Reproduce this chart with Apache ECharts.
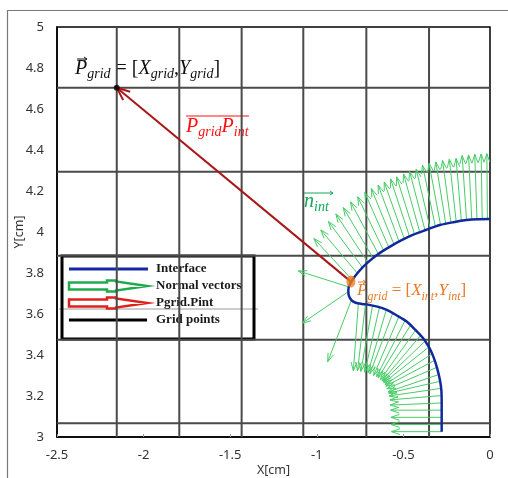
<!DOCTYPE html>
<html>
<head>
<meta charset="utf-8">
<script src="https://cdn.jsdelivr.net/npm/echarts@6/dist/echarts.min.js"></script>
<style>
  html, body { margin: 0; padding: 0; background: #fff; }
  #chart { width: 508px; height: 478px; }
</style>
</head>
<body>
<div id="chart"></div>
<script>
// Interface curve (cm), traced from the right edge, round the neck, down the lower lobe
const interfaceX = [0, -0.07, -0.135, -0.21, -0.289, -0.37, -0.443, -0.51, -0.577, -0.645, -0.712, -0.76, -0.795, -0.812, -0.818, -0.815, -0.800, -0.776, -0.740, -0.712, -0.650, -0.596, -0.540, -0.481, -0.430, -0.385, -0.350, -0.327, -0.305, -0.289, -0.281, -0.279, -0.279];
const interfaceY = [4.063, 4.062, 4.058, 4.048, 4.034, 4.010, 3.987, 3.960, 3.929, 3.893, 3.847, 3.805, 3.766, 3.740, 3.717, 3.690, 3.668, 3.655, 3.649, 3.647, 3.636, 3.620, 3.594, 3.563, 3.522, 3.481, 3.435, 3.392, 3.335, 3.278, 3.230, 3.180, 3.026];

// Mesh lines through the grid points (cm)
const gridLineX = [-2.155, -1.794, -1.434, -1.078, -0.714, -0.352];
const gridLineY = [4.704, 4.294, 3.884, 3.475, 3.067];

// Grid point and interface point
const gridPoint = [-2.155, 4.704];
const interfacePoint = [-0.803, 3.758];

// Vector from interface point to grid point: [x0, y0, x1, y1]
const gridVector = [[-0.803, 3.758, -2.155, 4.704]];

// Normal vectors on the upper branch: [x0, y0, x1, y1]
const upperNormals = [
  [-0.795, 3.766, -1.017, 3.968], [-0.765, 3.798, -0.977, 4.010], [-0.735, 3.826, -0.933, 4.051],
  [-0.705, 3.851, -0.890, 4.088], [-0.675, 3.873, -0.847, 4.119], [-0.645, 3.893, -0.805, 4.147],
  [-0.615, 3.911, -0.764, 4.172], [-0.585, 3.927, -0.723, 4.193], [-0.555, 3.941, -0.685, 4.212],
  [-0.525, 3.954, -0.646, 4.229], [-0.495, 3.967, -0.611, 4.244], [-0.465, 3.979, -0.574, 4.259],
  [-0.435, 3.988, -0.539, 4.269], [-0.405, 3.998, -0.499, 4.283], [-0.375, 4.008, -0.464, 4.295],
  [-0.345, 4.017, -0.426, 4.306], [-0.315, 4.025, -0.390, 4.326], [-0.285, 4.032, -0.352, 4.335],
  [-0.255, 4.038, -0.313, 4.342], [-0.225, 4.043, -0.274, 4.349], [-0.195, 4.048, -0.235, 4.356],
  [-0.165, 4.051, -0.196, 4.359], [-0.135, 4.054, -0.161, 4.373], [-0.105, 4.057, -0.124, 4.376],
  [-0.075, 4.059, -0.088, 4.379], [-0.045, 4.061, -0.051, 4.381], [-0.015, 4.062, -0.018, 4.382]
];

// Normal vectors on the lower lobe: [x0, y0, x1, y1]
const lowerNormals = [
  [-0.760, 3.652, -0.789, 3.323], [-0.719, 3.648, -0.765, 3.323], [-0.678, 3.640, -0.746, 3.320],
  [-0.639, 3.630, -0.723, 3.316], [-0.599, 3.620, -0.704, 3.314], [-0.562, 3.603, -0.693, 3.309],
  [-0.527, 3.585, -0.672, 3.300], [-0.491, 3.567, -0.655, 3.294], [-0.460, 3.544, -0.646, 3.288],
  [-0.430, 3.520, -0.633, 3.279], [-0.401, 3.495, -0.622, 3.274], [-0.376, 3.467, -0.618, 3.271],
  [-0.356, 3.437, -0.613, 3.264], [-0.336, 3.405, -0.606, 3.256], [-0.321, 3.373, -0.602, 3.248],
  [-0.309, 3.339, -0.596, 3.235], [-0.298, 3.304, -0.589, 3.220], [-0.288, 3.272, -0.585, 3.214],
  [-0.285, 3.237, -0.583, 3.200], [-0.281, 3.202, -0.578, 3.181], [-0.279, 3.166, -0.576, 3.156],
  [-0.279, 3.131, -0.574, 3.131], [-0.279, 3.096, -0.572, 3.096], [-0.279, 3.061, -0.571, 3.061],
  [-0.279, 3.026, -0.569, 3.026]
];

// Normal vectors around the neck: [x0, y0, x1, y1]
const neckNormals = [
  [-0.818, 3.733, -1.107, 3.810],
  [-0.818, 3.709, -1.084, 3.555],
  [-0.800, 3.668, -0.937, 3.367]
];

const legendLabels = ['Interface', 'Normal vectors', 'Pgrid.Pint', 'Grid points'];

const MATH_FONT = 'Liberation Serif';
const AXIS_FONT = 'Noto Sans';

function arrowItem(color, width, headLen, headAngle) {
  return function (params, api) {
    const a = api.coord([api.value(0), api.value(1)]);
    const b = api.coord([api.value(2), api.value(3)]);
    const ang = Math.atan2(b[1] - a[1], b[0] - a[0]);
    const h1 = [b[0] - headLen * Math.cos(ang - headAngle), b[1] - headLen * Math.sin(ang - headAngle)];
    const h2 = [b[0] - headLen * Math.cos(ang + headAngle), b[1] - headLen * Math.sin(ang + headAngle)];
    return {
      type: 'group',
      children: [
        { type: 'line', shape: { x1: a[0], y1: a[1], x2: b[0], y2: b[1] }, style: { stroke: color, lineWidth: width } },
        { type: 'polyline', shape: { points: [h1, b, h2] }, style: { stroke: color, lineWidth: width, fill: null } }
      ]
    };
  };
}

function meshLine(vertical) {
  return function (params, api) {
    const cs = params.coordSys;
    const v = api.value(0);
    if (vertical) {
      const x = api.coord([v, 4])[0];
      return { type: 'line', shape: { x1: x, y1: cs.y, x2: x, y2: cs.y + cs.height }, style: { stroke: '#4a4a4a', lineWidth: 2 } };
    }
    const y = api.coord([-1, v])[1];
    return { type: 'line', shape: { x1: cs.x, y1: y, x2: cs.x + cs.width, y2: y }, style: { stroke: '#4a4a4a', lineWidth: 2 } };
  };
}

const GREEN = '#48cc68';

function richFor(color, main, sub) {
  return {
    m: { fontFamily: MATH_FONT, fontStyle: 'italic', fontSize: main, lineHeight: 24, verticalAlign: 'middle', fill: color, color: color },
    u: { fontFamily: MATH_FONT, fontSize: main, lineHeight: 24, verticalAlign: 'middle', fill: color, color: color },
    s: { fontFamily: MATH_FONT, fontStyle: 'italic', fontSize: sub, lineHeight: 12, verticalAlign: 'bottom', fill: color, color: color }
  };
}
function smallArrow(x1, x2, y, color) {
  return [
    { type: 'line', shape: { x1: x1, y1: y, x2: x2, y2: y }, style: { stroke: color, lineWidth: 1 } },
    { type: 'polyline', shape: { points: [[x2 - 3, y - 2], [x2, y], [x2 - 3, y + 2]] }, style: { stroke: color, lineWidth: 1, fill: null } }
  ];
}

function hollowArrow(y, color) {
  const p = [[69, -3.5], [107, -3.5], [107, -5.5], [116, -5.5], [116, -4.5], [147, 0], [116, 4.5], [116, 5.5], [107, 5.5], [107, 3.5], [69, 3.5]];
  return { type: 'polygon', shape: { points: p.map(q => [q[0], y + q[1]]) }, style: { stroke: color, lineWidth: 2.5, fill: '#fff' } };
}

const legendY = [269, 286, 303, 320];
const legendGraphics = [
  { type: 'line', shape: { x1: 59, y1: 309, x2: 258, y2: 309 }, style: { stroke: '#9a9a9a', lineWidth: 1 } },
  { type: 'rect', shape: { x: 62, y: 256, width: 192, height: 83 }, style: { stroke: '#000', lineWidth: 3, fill: null } },
  { type: 'line', shape: { x1: 69, y1: legendY[0], x2: 148, y2: legendY[0] }, style: { stroke: '#1428a8', lineWidth: 3 } },
  hollowArrow(legendY[1], '#1faa4c'),
  hollowArrow(legendY[2], '#e0201c'),
  { type: 'line', shape: { x1: 69, y1: legendY[3], x2: 147, y2: legendY[3] }, style: { stroke: '#000', lineWidth: 3 } }
].concat(legendLabels.map((t, i) => ({
  type: 'text', x: 156, y: legendY[i],
  style: { text: t, fill: '#1a1a1a', font: 'bold 13px "Liberation Serif"', verticalAlign: 'middle', textAlign: 'left' }
})));

const labelGraphics = [
  // grid point label
  { type: 'text', x: 75, y: 69, style: { text: '{m|P}{s|grid}{u| = [}{m|X}{s|grid}{u|,}{m|Y}{s|grid}{u|]}', rich: richFor('#111', 20, 14), verticalAlign: 'middle' } },
  // vector label with overline
  { type: 'text', x: 186, y: 127, style: { text: '{m|P}{s|grid}{m|P}{s|int}', rich: richFor('#ff1010', 20, 14), verticalAlign: 'middle' } },
  { type: 'line', shape: { x1: 186, y1: 116, x2: 249, y2: 116 }, style: { stroke: '#ff1010', lineWidth: 1 } },
  // normal label with arrow
  { type: 'text', x: 304, y: 202, style: { text: '{m|n}{s|int}', rich: richFor('#12a858', 20, 14), verticalAlign: 'middle' } },
  // interface point label
  { type: 'text', x: 357, y: 291, style: { text: '{m|P}{s|grid}{u| = [}{m|X}{s|int}{u|,}{m|Y}{s|int}{u|]}', rich: richFor('#ea7a28', 17, 12), verticalAlign: 'middle' } }
]
  .concat(smallArrow(77, 87, 59, '#111'))
  .concat(smallArrow(304, 333, 193, '#12a858'))
  .concat(smallArrow(358, 366, 282, '#ea7a28'));

const frameGraphics = [
  { type: 'line', shape: { x1: 7, y1: 10.5, x2: 508, y2: 10.5 }, style: { stroke: '#777', lineWidth: 1.2 } },
  { type: 'line', shape: { x1: 7.5, y1: 10, x2: 7.5, y2: 478 }, style: { stroke: '#777', lineWidth: 1.2 } }
];

const chart = echarts.init(document.getElementById('chart'), null, { renderer: 'canvas' });
chart.setOption({
  animation: false,
  backgroundColor: '#fff',
  grid: { left: 57, right: 18, top: 27, bottom: 41, show: true, borderColor: '#000', borderWidth: 1.5, containLabel: false, outerBoundsMode: 'none' },
  xAxis: {
    type: 'value', min: -2.5, max: 0, interval: 0.5,
    name: 'X[cm]', nameLocation: 'middle', nameGap: 27, nameMoveOverlap: false,
    nameTextStyle: { fontFamily: AXIS_FONT, fontSize: 12.5, color: '#333' },
    axisLine: { show: true, onZero: false, lineStyle: { color: '#000', width: 1.5 } },
    axisTick: { show: true, inside: true, length: 3, lineStyle: { color: '#999' } },
    axisLabel: { fontFamily: AXIS_FONT, fontSize: 13, color: '#333', margin: 12 },
    splitLine: { show: false }
  },
  yAxis: {
    type: 'value', min: 3, max: 5, interval: 0.2,
    name: 'Y[cm]', nameLocation: 'middle', nameGap: 31, nameMoveOverlap: false,
    nameTextStyle: { fontFamily: AXIS_FONT, fontSize: 12.5, color: '#333' },
    axisLine: { show: true, onZero: false, lineStyle: { color: '#000', width: 1.5 } },
    axisTick: { show: false },
    axisLabel: { fontFamily: AXIS_FONT, fontSize: 13, color: '#333', margin: 13 },
    splitLine: { show: false }
  },
  series: [
    { type: 'custom', name: 'Grid lines X', data: gridLineX.map(v => [v]), renderItem: meshLine(true), encode: { x: 0 }, silent: true, z: 1 },
    { type: 'custom', name: 'Grid lines Y', data: gridLineY.map(v => [v]), renderItem: meshLine(false), encode: { y: 0 }, silent: true, z: 1 },
    { type: 'custom', name: 'Normal vectors', data: upperNormals.concat(lowerNormals, neckNormals), renderItem: arrowItem(GREEN, 1, 9, 0.33), encode: { x: [0, 2], y: [1, 3] }, clip: true, silent: true, z: 2 },
    { type: 'line', name: 'Interface', data: interfaceX.map((x, i) => [x, interfaceY[i]]), showSymbol: false, smooth: 0.3, lineStyle: { color: '#102a9c', width: 2.5 }, z: 3, silent: true },
    { type: 'custom', name: 'Pgrid.Pint', data: gridVector, renderItem: arrowItem('#a81818', 2, 14, 0.4), encode: { x: [0, 2], y: [1, 3] }, silent: true, z: 4 },
    { type: 'scatter', name: 'Grid point', data: [gridPoint], symbol: 'circle', symbolSize: 6, itemStyle: { color: '#000' }, z: 5, silent: true },
    { type: 'scatter', name: 'Interface point', data: [interfacePoint], symbol: 'circle', symbolSize: [9, 12], itemStyle: { color: '#f07d1c' }, z: 5, silent: true }
  ],
  graphic: frameGraphics.concat(legendGraphics, labelGraphics)
});
</script>
</body>
</html>
